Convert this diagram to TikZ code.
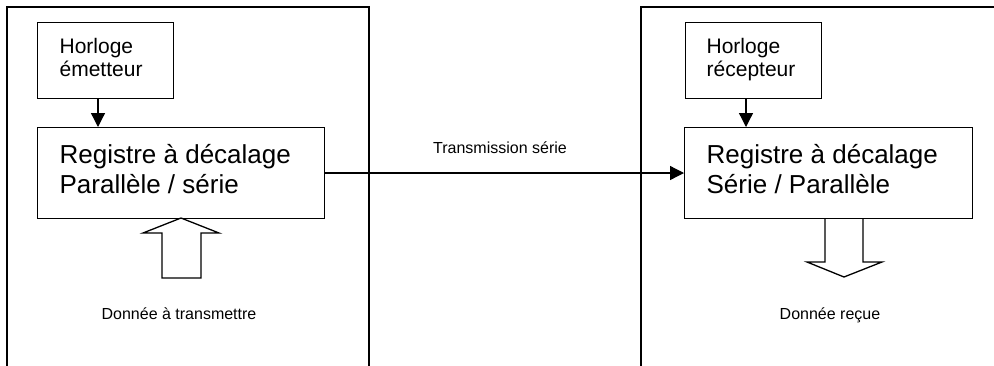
\documentclass[tikz,border=0pt]{standalone}
\usepackage{fontspec}
\setmainfont{Liberation Sans}
\usetikzlibrary{arrows.meta}
\begin{document}
\begin{tikzpicture}[x=1pt,y=-1pt,
  line width=1.3pt,
  box/.style={draw, line width=1.3pt, rectangle, inner sep=0pt, anchor=north west},
  lbl/.style={inner sep=0pt, anchor=base west},
  big/.style={lbl, font=\fontsize{26}{30}\selectfont},
  mid/.style={lbl, font=\fontsize{21}{24}\selectfont},
  small/.style={inner sep=0pt, anchor=base, font=\fontsize{16}{19}\selectfont},
  tip/.style={-{Triangle[length=14pt,width=14pt]}}]
\useasboundingbox (0,0) rectangle (994,365);
% outer frames
\draw (7,366) -- (7,7) -- (369,7) -- (369,366);
\draw (641,366) -- (641,7) -- (995,7);
% left side
\node[box, minimum width=136pt, minimum height=76pt] (hE) at (37,22) {};
\node[box, minimum width=287pt, minimum height=91pt] (rE) at (37,127) {};
\node[mid] (hEt1) at (59,53) {Horloge};
\node[mid] (hEt2) at (59,76) {émetteur};
\node[big] (rEt1) at (59,163) {Registre à décalage};
\node[big] (rEt2) at (59,193) {Parallèle / série};
\coordinate (hEb) at (98,98);
\coordinate (rEt) at (98,127);
\draw[tip] (hEb) -- (rEt);
\draw (181,218) -- (219,233) -- (201,233) -- (201,278) -- (162,278) -- (162,233) -- (143,233) -- cycle;
\node[small] (dE) at (179,319) {Donnée à transmettre};
% right side
\node[box, minimum width=136pt, minimum height=76pt] (hR) at (685,22) {};
\node[box, minimum width=288pt, minimum height=91pt] (rR) at (684,127) {};
\node[mid] (hRt1) at (706,53) {Horloge};
\node[mid] (hRt2) at (706,76) {récepteur};
\node[big] (rRt1) at (706,163) {Registre à décalage};
\node[big] (rRt2) at (706,193) {Série / Parallèle};
\coordinate (hRb) at (746,98);
\coordinate (rRt) at (746,127);
\draw[tip] (hRb) -- (rRt);
\draw (825,218) -- (825,262) -- (807,262) -- (844,277) -- (882,262) -- (863,262) -- (863,218);
\node[small] (dR) at (830,319) {Donnée reçue};
% transmission
\draw[tip] (rE.east |- 0,173) -- (rR.west |- 0,173);
\node[small] (tr) at (500,153) {Transmission série};
\end{tikzpicture}
\end{document}
